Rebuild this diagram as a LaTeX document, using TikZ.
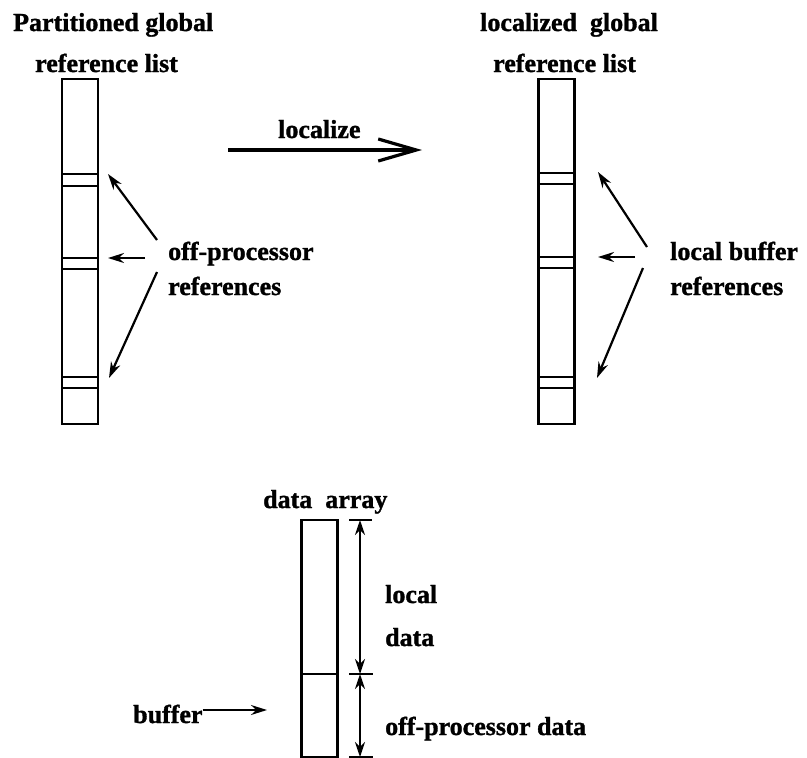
\documentclass[tikz,border=0pt]{standalone}
\usepackage{fontspec}
\setmainfont[FakeBold=1.2]{Liberation Serif}
\usetikzlibrary{arrows.meta}
\begin{document}
\begin{tikzpicture}[x=1pt,y=-1pt,
  lbl/.style={anchor=base west,inner sep=0pt,font=\fontsize{26}{30}\selectfont\bfseries},
  column/.style={draw,line width=2.8pt,inner sep=0pt,minimum width=36pt},
  band/.style={line width=2.6pt},
  pointer/.style={line width=2.2pt,-{Stealth[length=16pt,width=10pt]}},
  dim/.style={line width=1.8pt,{Stealth[length=15pt,width=10pt]}-{Stealth[length=15pt,width=10pt]}},
  tick/.style={line width=2.4pt}]
\useasboundingbox (0,0) rectangle (807,758);

% --- partitioned list (left) ---
\node[lbl] (t1) at (13,31) {Partitioned global};
\node[lbl] (t2) at (35,72) {reference list};
\node[column,minimum height=345pt] (L) at (80,251.5) {};
\draw[band] (62,174) -- (98,174) (62,186) -- (98,186);
\draw[band] (62,258) -- (98,258) (62,269) -- (98,269);
\draw[band] (62,377) -- (98,377) (62,388) -- (98,388);

\node[lbl] (off) at (168,260) {off-processor};
\node[lbl] (refs1) at (168,295) {references};
\coordinate (la1) at (157,240); \coordinate (lb1) at (108,174);
\coordinate (la2) at (145,258); \coordinate (lb2) at (108,258);
\coordinate (la3) at (157,272); \coordinate (lb3) at (109,378);
\draw[pointer] (la1) -- (lb1);
\draw[pointer] (la2) -- (lb2);
\draw[pointer] (la3) -- (lb3);

% --- localize arrow ---
\node[lbl] (loc) at (278,138) {localize};
\coordinate (ls) at (228,150); \coordinate (le) at (422,150);
\draw[line width=3.2pt,-{Straight Barb[length=38pt,width=22pt,line width=3.2pt]}] (ls) -- (le);

% --- localized list (right) ---
\node[lbl] (t3) at (480,31) {localized\ \ global};
\node[lbl] (t4) at (493,72) {reference list};
\node[column,minimum height=345pt] (R) at (556.5,251.5) {};
\draw[band] (538.5,173) -- (574.5,173) (538.5,184) -- (574.5,184);
\draw[band] (538.5,257) -- (574.5,257) (538.5,268) -- (574.5,268);
\draw[band] (538.5,377) -- (574.5,377) (538.5,388) -- (574.5,388);

\node[lbl] (lb) at (670,260) {local buffer};
\node[lbl] (refs2) at (670,295) {references};
\coordinate (ra1) at (647,247); \coordinate (rb1) at (598,172);
\coordinate (ra2) at (635,257); \coordinate (rb2) at (598,257);
\coordinate (ra3) at (643,268); \coordinate (rb3) at (597,378);
\draw[pointer] (ra1) -- (rb1);
\draw[pointer] (ra2) -- (rb2);
\draw[pointer] (ra3) -- (rb3);

% --- data array ---
\node[lbl] (da) at (263,508) {data\ \ array};
\node[column,minimum height=237pt] (D) at (319.5,638.5) {};
\draw[band] (301.5,674) -- (337.5,674);

\coordinate (d0) at (360,520); \coordinate (d1) at (360,674); \coordinate (d2) at (360,757);
\draw[tick] (349,520) -- (372,520);
\draw[tick] (349,674) -- (373,674);
\draw[tick] (349,757) -- (373,757);
\draw[dim] (d0) -- (d1);
\draw[dim] (d1) -- (d2);

\node[lbl] (ld1) at (385,603) {local};
\node[lbl] (ld2) at (385,646) {data};
\node[lbl] (od) at (385,735) {off-processor data};

\node[lbl] (buf) at (133,723) {buffer};
\coordinate (bt) at (267,710);
\draw[pointer,line width=1.8pt] (buf.east |- bt) -- (bt);
\end{tikzpicture}
\end{document}
